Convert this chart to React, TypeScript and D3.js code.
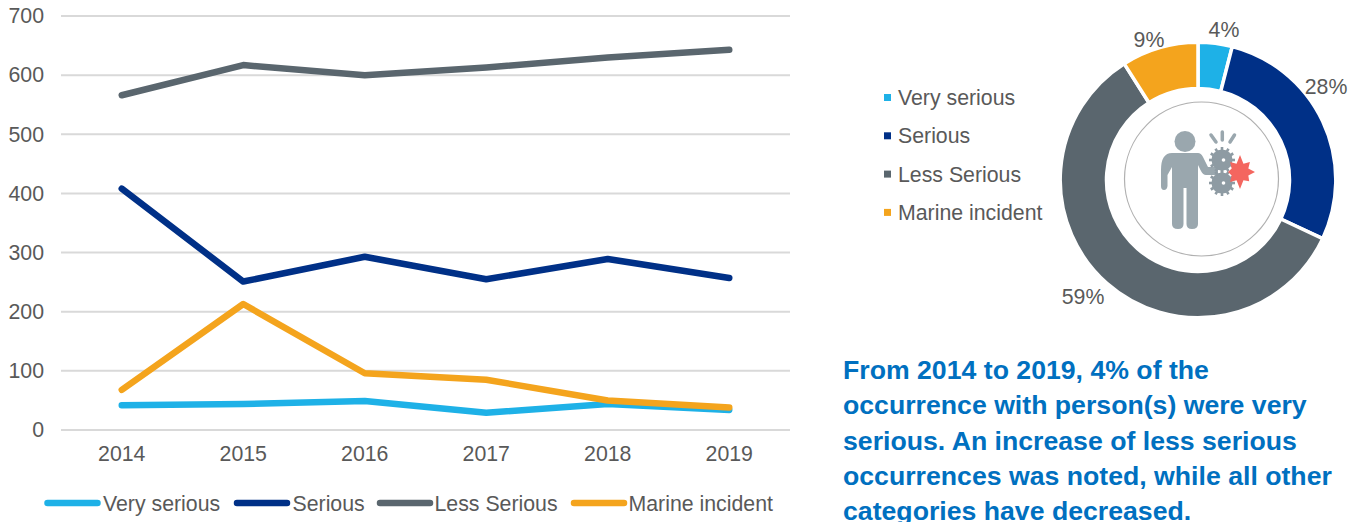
import React from 'react'
import * as d3 from 'd3'

const years = ['2014', '2015', '2016', '2017', '2018', '2019']
const seriesNames = ['Very serious', 'Serious', 'Less Serious', 'Marine incident']
const verySerious = [42, 44, 49, 29, 44, 34]
const serious = [408, 251, 293, 255, 289, 257]
const lessSerious = [566, 617, 600, 613, 630, 643]
const marineIncident = [68, 213, 96, 85, 50, 38]
const yTicks = [0, 100, 200, 300, 400, 500, 600, 700]
const shares = [4, 28, 59, 9]
const colors = ['#1EB1E7', '#003087', '#5A666E', '#F4A41D']
const summary = [
  'From 2014 to 2019, 4% of the',
  'occurrence with person(s) were very',
  'serious. An increase of less serious',
  'occurrences was noted, while all other',
  'categories have decreased.',
]

const font = '"Liberation Sans", Arial, sans-serif'
const textColor = '#595959'
const labelSize = 21.3

const xScale = d3.scaleBand<string>().domain(years).range([61, 790])
const yScale = d3.scaleLinear().domain([0, 700]).range([430, 16])
const xPos = (year: string) => (xScale(year) as number) + xScale.bandwidth() / 2

const lineGen = d3
  .line<number>()
  .x((_, i) => xPos(years[i]))
  .y((d) => yScale(d))

const LineChart = () => {
  const all = [verySerious, serious, lessSerious, marineIncident]
  // drawn in series order, marine incident ends up on top
  return (
    <g>
      <g
        ref={(node) => {
          if (!node) return
          const axis = d3.axisLeft(yScale).tickValues(yTicks).tickSize(0).tickPadding(0)
          const g = d3.select(node).attr('transform', 'translate(44,0)').call(axis)
          g.select('.domain').remove()
          g.selectAll('text')
            .attr('font-family', font)
            .attr('font-size', labelSize)
            .attr('fill', textColor)
            .attr('text-anchor', 'end')
        }}
      />
      {yTicks.map((t) => (
        <line key={t} x1={61} x2={790} y1={yScale(t)} y2={yScale(t)} stroke="#D9D9D9" strokeWidth={2} />
      ))}
      <g
        ref={(node) => {
          if (!node) return
          const axis = d3.axisBottom(xScale).tickSize(0).tickPadding(0)
          const g = d3.select(node).attr('transform', 'translate(0,446)').call(axis)
          g.select('.domain').remove()
          g.selectAll('text')
            .attr('font-family', font)
            .attr('font-size', labelSize)
            .attr('fill', textColor)
        }}
      />
      {all.map((values, i) => (
        <path
          key={seriesNames[i]}
          d={lineGen(values) as string}
          fill="none"
          stroke={colors[i]}
          strokeWidth={6.5}
          strokeLinecap="round"
          strokeLinejoin="round"
        />
      ))}
    </g>
  )
}

const legendLines = [44.5, 234, 377, 571]
const legendText = [103, 292.5, 434.5, 628.5]
const LineLegend = () => (
  <g fontFamily={font} fontSize={labelSize} fill={textColor}>
    {seriesNames.map((name, i) => (
      <g key={name}>
        <line x1={legendLines[i] + 3} x2={legendLines[i] + 53} y1={503} y2={503} stroke={colors[i]} strokeWidth={6.5} strokeLinecap="round" />
        <text x={legendText[i]} y={511}>
          {name}
        </text>
      </g>
    ))}
  </g>
)

const Gear = ({ cx, cy, r }: { cx: number; cy: number; r: number }) => {
  const teeth = d3.range(12).map((i) => (i * 360) / 12)
  return (
    <g>
      <circle cx={cx} cy={cy} r={r} fill="#8E9BA3" />
      {teeth.map((a) => (
        <rect key={a} x={cx - 1.3} y={cy - r - 2.5} width={2.6} height={4} fill="#8E9BA3" transform={`rotate(${a} ${cx} ${cy})`} />
      ))}
      <circle cx={cx + 1.5} cy={cy} r={1.8} fill="#fff" />
    </g>
  )
}

const Icon = () => {
  const burst = d3
    .lineRadial<number>()
    .angle((_, i) => (i * Math.PI) / 8)
    .radius((d) => d)
    .curve(d3.curveLinearClosed)([17, 9, 14, 9, 15, 9, 13, 9, 17, 9, 14, 9, 12, 9, 14, 9])
  return (
    <g>
      <circle cx={1201.5} cy={179} r={77} fill="#fff" stroke="#B0B0B0" strokeWidth={1.2} />
      <g fill="#9AA7AE">
        <circle cx={1185} cy={141.5} r={10.5} />
        <path d="M1172 153 L1198 153 Q1201 153 1203 157 L1208 167 L1218 167 L1218 175 L1206 175 Q1203 175 1201 171 L1198 165 L1198 224 Q1198 229 1192 229 Q1186.5 229 1186.5 224 L1186.5 188 L1183.5 188 L1183.5 224 Q1183.5 229 1178 229 Q1172 229 1172 224 L1172 167 L1167.5 175 L1167.5 186 Q1167 190 1164 190 Q1161 190 1161 186 L1161 170 Q1161 153 1172 153 Z" />
      </g>
      <Gear cx={1222} cy={160} r={10.5} />
      <Gear cx={1222} cy={183} r={10.5} />
      <path d={burst as string} fill="#F4665F" transform="translate(1240,172)" />
      <g stroke="#9AA7AE" strokeWidth={3.5} strokeLinecap="round">
        <line x1={1211} y1={135} x2={1216} y2={142} />
        <line x1={1222.3} y1={132} x2={1222.3} y2={140} />
        <line x1={1234.5} y1={135} x2={1230} y2={142} />
      </g>
    </g>
  )
}

const Donut = () => {
  const pie = d3.pie<number>().sort(null)(shares)
  const arc = d3.arc<d3.PieArcDatum<number>>().innerRadius(91.5).outerRadius(137.8)
  const labelPos: [number, number][] = [
    [1224, 36.5],
    [1326, 94],
    [1083, 304],
    [1149, 47],
  ]
  return (
    <g>
      <g transform="translate(1198,180)">
        {pie.map((d, i) => (
          <path key={i} d={arc(d) as string} fill={colors[i]} stroke="#fff" strokeWidth={3.5} />
        ))}
      </g>
      <Icon />
      <g fontFamily={font} fontSize={labelSize} fill={textColor} textAnchor="middle">
        {shares.map((s, i) => (
          <text key={i} x={labelPos[i][0]} y={labelPos[i][1]}>
            {s}%
          </text>
        ))}
      </g>
    </g>
  )
}

const DonutLegend = () => (
  <g fontFamily={font} fontSize={labelSize} fill={textColor}>
    {seriesNames.map((name, i) => (
      <g key={name}>
        <rect x={884} y={94 + i * 38.3} width={7} height={7} fill={colors[i]} />
        <text x={898} y={105 + i * 38.4}>
          {name}
        </text>
      </g>
    ))}
  </g>
)

const App = () => (
  <svg
    width={1365}
    height={522}
    style={{ position: 'absolute', left: 0, top: 0, background: '#fff' }}
  >
    <LineChart />
    <LineLegend />
    <Donut />
    <DonutLegend />
    <g fontFamily={font} fontSize={26.67} fontWeight="bold" fill="#0070C0">
      {summary.map((line, i) => (
        <text key={i} x={843} y={379 + i * 35.3}>
          {line}
        </text>
      ))}
    </g>
  </svg>
)

export default App
